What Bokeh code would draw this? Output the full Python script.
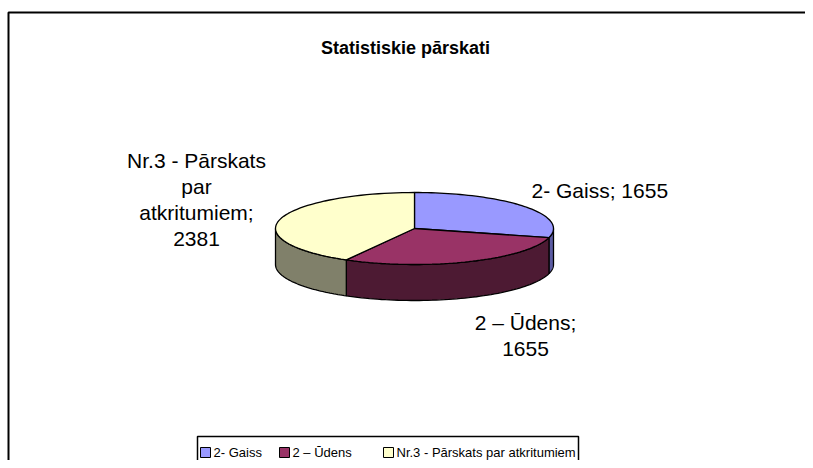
import math
from bokeh.plotting import figure
from bokeh.models import Range1d
from bokeh.core.properties import value
from bokeh.embed import file_html
from bokeh.resources import INLINE

# ---- data ----
categories = ["2- Gaiss", "2 – Ūdens", "Nr.3 - Pārskats par atkritumiem"]
values = [1655, 1655, 2381]
label_lines = [["2- Gaiss; 1655"], ["2 – Ūdens;", "1655"], ["Nr.3 - Pārskats", "par", "atkritumiem;", "2381"]]
top_colors = ["#9999FF", "#993366", "#FFFFCC"]
side_colors = ["#5C5CA3", "#4D1A33", "#80806A"]
title_text = "Statistiskie pārskati"

W, H = 805, 460
FONT = "Liberation Sans"

p = figure(width=W, height=H, output_backend="svg", toolbar_location=None,
           x_range=Range1d(0, W), y_range=Range1d(H, 0),
           x_axis_location=None, y_axis_location=None, min_border=0)
p.grid.visible = False
p.outline_line_color = None
p.background_fill_color = "white"

# frame (extends beyond right / bottom edges like the reference)
p.line(x=[8, 8, W + 20], y=[H + 20, 12, 12], line_color="black", line_width=2)

# title
p.text(x=[405], y=[47], text=[title_text], text_font=value(FONT),
       text_font_size="18px", text_font_style="bold", text_align="center",
       text_baseline="middle", text_color="black")

# ---- 3D pie ----
cx, cy, a, b, depth = 414, 228, 139, 36, 36
total = float(sum(values))
spans = [v / total * 360.0 for v in values]
starts = []
ang = 90.0
for s in spans:
    starts.append(ang)
    ang -= s

def pt(theta_deg, dy=0.0):
    t = math.radians(theta_deg)
    return cx + a * math.cos(t), cy - b * math.sin(t) + dy

def arc(t1, t2, dy=0.0, n=60):
    xs, ys = [], []
    for i in range(n + 1):
        t = t1 + (t2 - t1) * i / n
        x, y = pt(t, dy)
        xs.append(x); ys.append(y)
    return xs, ys

# side walls (visible for angles in [-180, 0])
side_xs, side_ys, side_c = [], [], []
for st, sp, col in zip(starts, spans, side_colors):
    hi, lo = st, st - sp
    for off in (0.0, -360.0):
        h, l = hi + off, lo + off
        h2, l2 = min(h, 0.0), max(l, -180.0)
        if h2 > l2:
            ax, ay = arc(h2, l2)
            bx, by = arc(l2, h2, dy=depth)
            side_xs.append(ax + bx)
            side_ys.append(ay + by)
            side_c.append(col)
p.patches(xs=side_xs, ys=side_ys, fill_color=side_c, line_color="black", line_width=1.3)

# top slices
top_xs, top_ys = [], []
for st, sp in zip(starts, spans):
    ax, ay = arc(st, st - sp)
    top_xs.append([cx] + ax)
    top_ys.append([cy] + ay)
p.patches(xs=top_xs, ys=top_ys, fill_color=top_colors, line_color="black", line_width=1.3)

# data labels
label_pos = [(531, 190, "left"), (525, 322, "center"), (196, 160, "center")]
lh = 26
for lines, (lx, ly, al) in zip(label_lines, label_pos):
    p.text(x=[lx] * len(lines), y=[ly + i * lh for i in range(len(lines))], text=lines,
           text_font=value(FONT), text_font_size="21px", text_align=al,
           text_baseline="middle", text_color="black")

# ---- legend ----
p.quad(left=[197], right=[578], top=[436], bottom=[H + 20], fill_color=None,
       line_color="black", line_width=1.5)
sq_x = [200, 279, 383]
txt_x = [213, 292, 396]
leg_y = 452
p.rect(x=[s + 5 for s in sq_x], y=[leg_y] * 3, width=10, height=10,
       fill_color=top_colors, line_color="black", line_width=1)
p.text(x=txt_x, y=[leg_y] * 3, text=categories, text_font=value(FONT),
       text_font_size="13px", text_align="left", text_baseline="middle", text_color="black")

open("out.html", "w").write(file_html(p, INLINE))
